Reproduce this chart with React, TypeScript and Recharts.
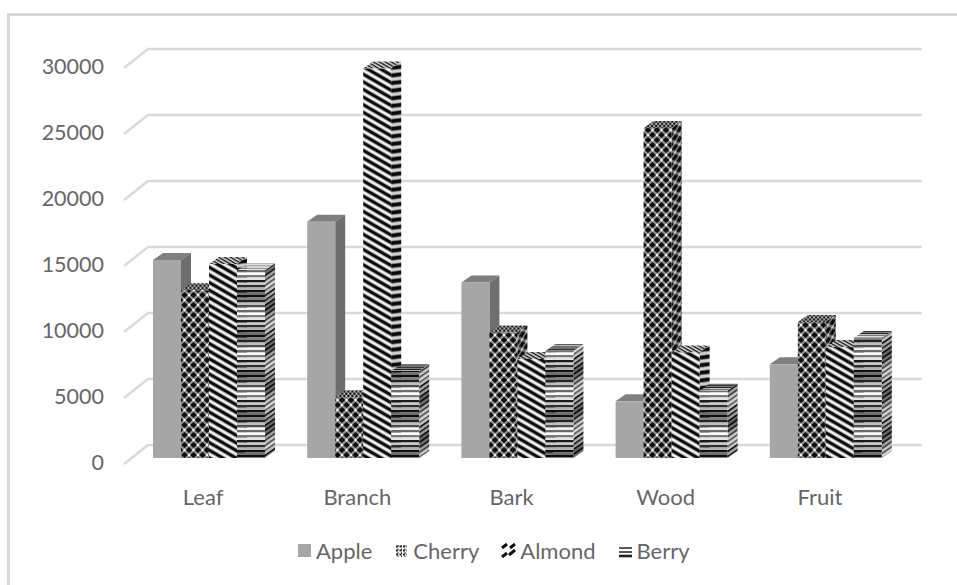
import { BarChart, Bar, XAxis, YAxis, CartesianGrid, Legend } from "recharts";

const categories = ["Leaf", "Branch", "Bark", "Wood", "Fruit"];
const seriesNames = ["Apple", "Cherry", "Almond", "Berry"];
const apple = [15000, 17900, 13300, 4300, 7100];
const cherry = [12700, 4600, 9500, 25000, 10300];
const almond = [14700, 29500, 7500, 8000, 8400];
const berry = [14200, 6600, 8100, 5100, 9100];
const yTicks = [0, 5000, 10000, 15000, 20000, 25000, 30000];

const data = categories.map((name, i) => ({
  name,
  Apple: apple[i],
  Cherry: cherry[i],
  Almond: almond[i],
  Berry: berry[i],
}));

const TEXT = "#666666";
const FONT = "Lato, sans-serif";

// box depth of the pseudo-3D columns
const DX = 10;
const DY = 7;

const berryStripes = [
  "#1a1a1a", "#c8c8c8", "#2e2e2e", "#b4b4b4", "#111111", "#707070", "#0d0d0d", "#808080",
  "#222222", "#c0c0c0", "#505050", "#f0f0f0", "#6a6a6a", "#ffffff", "#7a7a7a", "#e6e6e6",
];

function faceTransform(face: string) {
  if (face === "side") return "skewY(-35)";
  if (face === "top") return "scale(0.45)";
  return "";
}

function Patterns({ face }: { face: string }) {
  const t = faceTransform(face);
  return (
    <>
      <pattern id={`cherry-${face}`} width={9} height={10} patternUnits="userSpaceOnUse" patternTransform={t}>
        <rect width={9} height={10} fill="#8f8f8f" />
        {/* black diamonds on a honeycomb grid, with light specks between them */}
        {[[0, 0], [9, 0], [4.5, 5], [0, 10], [9, 10]].map(([cx, cy], i) => (
          <path key={i} d={`M${cx - 3.4},${cy}L${cx},${cy - 3}L${cx + 3.4},${cy}L${cx},${cy + 3}Z`} fill="#0e0e0e" />
        ))}
        {[[4.5, 0], [0, 5], [9, 5], [4.5, 10]].map(([cx, cy], i) => (
          <circle key={i} cx={cx} cy={cy} r={1.3} fill="#f2f2f2" />
        ))}
      </pattern>
      <pattern
        id={`almond-${face}`}
        width={80}
        height={6.6}
        patternUnits="userSpaceOnUse"
        patternTransform={`${t} rotate(30)`}
      >
        <rect width={80} height={6.6} fill="#f4f4f4" />
        <rect y={0} width={80} height={2.9} fill="#0c0c0c" />
        <rect y={2.9} width={80} height={0.7} fill="#8c8c8c" />
        <rect y={5.9} width={80} height={0.7} fill="#8c8c8c" />
      </pattern>
      <pattern id={`berry-${face}`} width={10} height={40} patternUnits="userSpaceOnUse" patternTransform={t}>
        {berryStripes.map((fill, i) => (
          <rect key={i} y={i * 2.5} width={10} height={2.5} fill={fill} />
        ))}
      </pattern>
    </>
  );
}

function Column({ x, y, width, height, dataKey }: any) {
  const plain = dataKey === "Apple";
  const key = String(dataKey).toLowerCase();
  const front = plain ? "#a6a6a6" : `url(#${key}-front)`;
  const side = plain ? "#6e6e6e" : `url(#${key}-side)`;
  const top = plain ? "#7f7f7f" : `url(#${key}-top)`;
  const r = x + width;
  const b = y + height;
  return (
    <g>
      <path d={`M${x},${y}L${x + DX},${y - DY}L${r + DX},${y - DY}L${r},${y}Z`} fill={top} />
      <path d={`M${r},${y}L${r + DX},${y - DY}L${r + DX},${b - DY}L${r},${b}Z`} fill={side} />
      {!plain && <path d={`M${r},${y}L${r + DX},${y - DY}L${r + DX},${b - DY}L${r},${b}Z`} fill="#000" fillOpacity={0.15} />}
      <rect x={x} y={y} width={width} height={height} fill={front} />
    </g>
  );
}

// wall-and-floor gridline: short slanted run on the side wall, then the back wall
function GridLine({ y1 }: any) {
  return (
    <path
      key={y1}
      d={`M124,${y1 + 6}L148,${y1 - 13}L922,${y1 - 13}`}
      fill="none"
      stroke="#d9d9d9"
      strokeWidth={2.5}
    />
  );
}

function YTick({ y, payload }: any) {
  return (
    <text x={104} y={y + 4} textAnchor="end" dominantBaseline="central" fill={TEXT} fontSize={21.5} fontFamily={FONT}>
      {payload.value}
    </text>
  );
}

function XTick({ x, y, payload }: any) {
  return (
    <text x={x - 6} y={y + 30} textAnchor="middle" dominantBaseline="central" fill={TEXT} fontSize={22} fontFamily={FONT}>
      {payload.value}
    </text>
  );
}

function Swatch({ name }: { name: string }) {
  if (name === "Apple") return <rect x={1} y={1} width={13} height={13} fill="#a6a6a6" />;
  if (name === "Cherry") {
    return (
      <g stroke="#222" strokeWidth={2} strokeDasharray="2 1.5">
        <path d="M2,3.5H13M2,7.5H13M2,11.5H13" />
        <path d="M4,2V14M7.5,2V14M11,2V14" stroke="#333" strokeWidth={1} />
      </g>
    );
  }
  if (name === "Almond") {
    return (
      <g stroke="#111" strokeWidth={3}>
        <path d="M1,5L6,1M9,5L14,1M1,14L6,10M8,12L14,7" />
      </g>
    );
  }
  return (
    <g stroke="#222" strokeWidth={1.6}>
      <path d="M1,5H14M1,9H14" />
      <path d="M1,13H14" strokeWidth={2.6} />
    </g>
  );
}

function ChartLegend() {
  return (
    <div style={{ display: "flex", alignItems: "center", fontFamily: FONT, fontSize: 22, color: TEXT }}>
      {seriesNames.map((name, i) => (
        <div key={name} style={{ display: "flex", alignItems: "center", marginLeft: i ? 22 : 0 }}>
          <svg width={15} height={15} style={{ marginRight: 4 }}>
            <Swatch name={name} />
          </svg>
          {name}
        </div>
      ))}
    </div>
  );
}

export default function App() {
  return (
    <div
      style={{
        position: "absolute",
        left: 0,
        top: 0,
        width: 957,
        height: 585,
        background: "#fff",
        overflow: "hidden",
      }}
    >
      <div
        style={{
          position: "absolute",
          left: 7,
          top: 13,
          width: 960,
          height: 580,
          borderLeft: "3px solid #d9d9d9",
          borderTop: "3px solid #d9d9d9",
        }}
      />
      <BarChart
        width={957}
        height={585}
        data={data}
        margin={{ top: 62, right: 54, bottom: 0, left: 0 }}
        barGap={0}
        barSize={28}
        style={{ position: "absolute", left: 0, top: 0 }}
      >
        <defs>
          <Patterns face="front" />
          <Patterns face="side" />
          <Patterns face="top" />
        </defs>
        <CartesianGrid vertical={false} horizontal={(props: any) => <GridLine key={props.y1} {...props} />} />
        <XAxis dataKey="name" height={127} axisLine={false} tickLine={false} tick={XTick} interval={0} />
        <YAxis width={132} domain={[0, 30000]} ticks={yTicks} axisLine={false} tickLine={false} tick={YTick} />
        <Legend
          layout="horizontal"
          verticalAlign="middle"
          align="center"
          content={() => <ChartLegend />}
          wrapperStyle={{ position: "absolute", left: 297, top: 537, width: "auto" }}
        />
        {seriesNames.map((name) => (
          <Bar key={name} dataKey={name} isAnimationActive={false} shape={(p: any) => <Column {...p} dataKey={name} />} />
        ))}
      </BarChart>
    </div>
  );
}
